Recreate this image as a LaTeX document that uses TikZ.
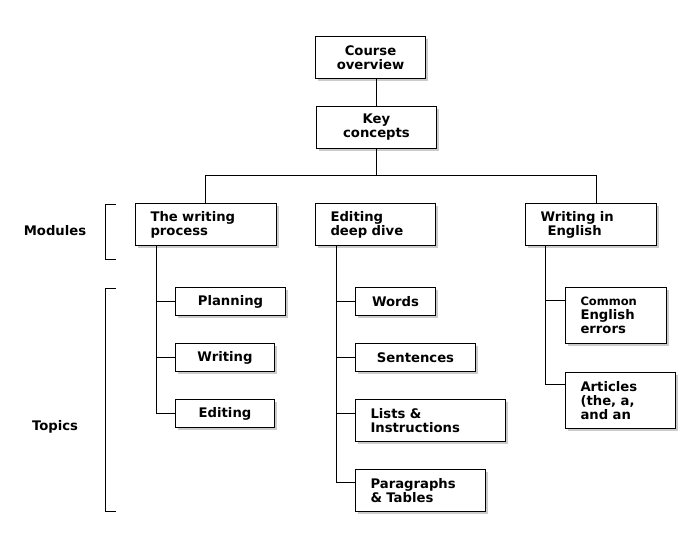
\documentclass[tikz,border=0pt]{standalone}
\usepackage{fontspec}
\setmainfont{DejaVu Sans}
\usetikzlibrary{shadows,calc}
\begin{document}
\begin{tikzpicture}[x=1pt,y=-1pt,
  line width=1pt,
  box/.style={draw, fill=white, line width=1pt, anchor=north west, inner ysep=0pt,
    drop shadow={shadow xshift=2.5pt, shadow yshift=-2.5pt, fill=black, opacity=0.2},
    font=\bfseries\fontsize{13.2}{14}\selectfont},
  lbox/.style={box, align=left, inner xsep=15pt},
  cbox/.style={box, align=center, inner xsep=0pt},
  lab/.style={font=\bfseries\fontsize{13.2}{14}\selectfont, inner sep=0pt}]
\useasboundingbox (0,0) rectangle (700,546);
% top
\node[cbox, text width=110pt, minimum height=42pt] (co) at (315,36) {Course\\overview};
\node[cbox, text width=120pt, minimum height=42pt] (kc) at (316,106) {Key\\concepts};
% modules
\node[lbox, text width=111pt, minimum height=42pt] (wp) at (135,203) {The writing\\process};
\node[lbox, text width=90pt, minimum height=42pt] (ed) at (315,203) {Editing\\deep dive};
\node[lbox, text width=101pt, minimum height=42pt] (we) at (525,203) {Writing in\\\hspace*{7pt}English};
% topics column 1
\node[cbox, text width=110pt, minimum height=28pt] (pl) at (175,287) {Planning};
\node[cbox, text width=99pt, minimum height=28pt] (wr) at (175,343) {Writing};
\node[cbox, text width=99pt, minimum height=28pt] (et) at (175,399) {Editing};
% topics column 2
\node[cbox, text width=80pt, minimum height=28pt] (wo) at (355,287) {Words};
\node[cbox, text width=120pt, minimum height=28pt] (se) at (355,343) {Sentences};
\node[lbox, text width=120pt, minimum height=42pt] (li) at (355,399) {Lists \&\\Instructions};
\node[lbox, text width=100pt, minimum height=42pt] (pa) at (355,469) {Paragraphs\\\& Tables};
% topics column 3
\node[lbox, text width=71pt, minimum height=56pt] (ce) at (565,287) {{\fontsize{11.5}{14}\selectfont Common}\\English\\errors};
\node[lbox, text width=80pt, minimum height=56pt] (ar) at (565,372) {Articles\\(the, a,\\and an};
% labels
\node[lab] (lm) at (55,231) {Modules};
\node[lab] (lt) at (55,427) {Topics};
% brackets
\draw (116,204) -- (105,204) -- (105,259) -- (116,259);
\draw (116,288) -- (105,288) -- (105,511) -- (116,511);
% connectors top
\draw (kc.north) -- (kc.north |- co.south);
\coordinate (busL) at (205,175);
\coordinate (busR) at (596,175);
\draw (kc.south) -- (kc.south |- busL);
\draw (busL |- wp.north) -- (busL) -- (busR) -- (busR |- we.north);
% trunks
\coordinate (t1) at (156,245);
\coordinate (t2) at (336,245);
\coordinate (t3) at (545,245);
\draw (t1) |- (pl.west);
\draw (t1) |- (wr.west);
\draw (t1) |- (et.west);
\draw (t2) |- (wo.west);
\draw (t2) |- (se.west);
\draw (t2) |- ($(li.north west)+(0,14)$);
\draw (t2) |- ($(pa.north west)+(0,13.5)$);
\draw (t3) |- ($(ce.north west)+(0,13)$);
\draw (t3) |- ($(ar.north west)+(0,12.5)$);
\end{tikzpicture}
\end{document}
